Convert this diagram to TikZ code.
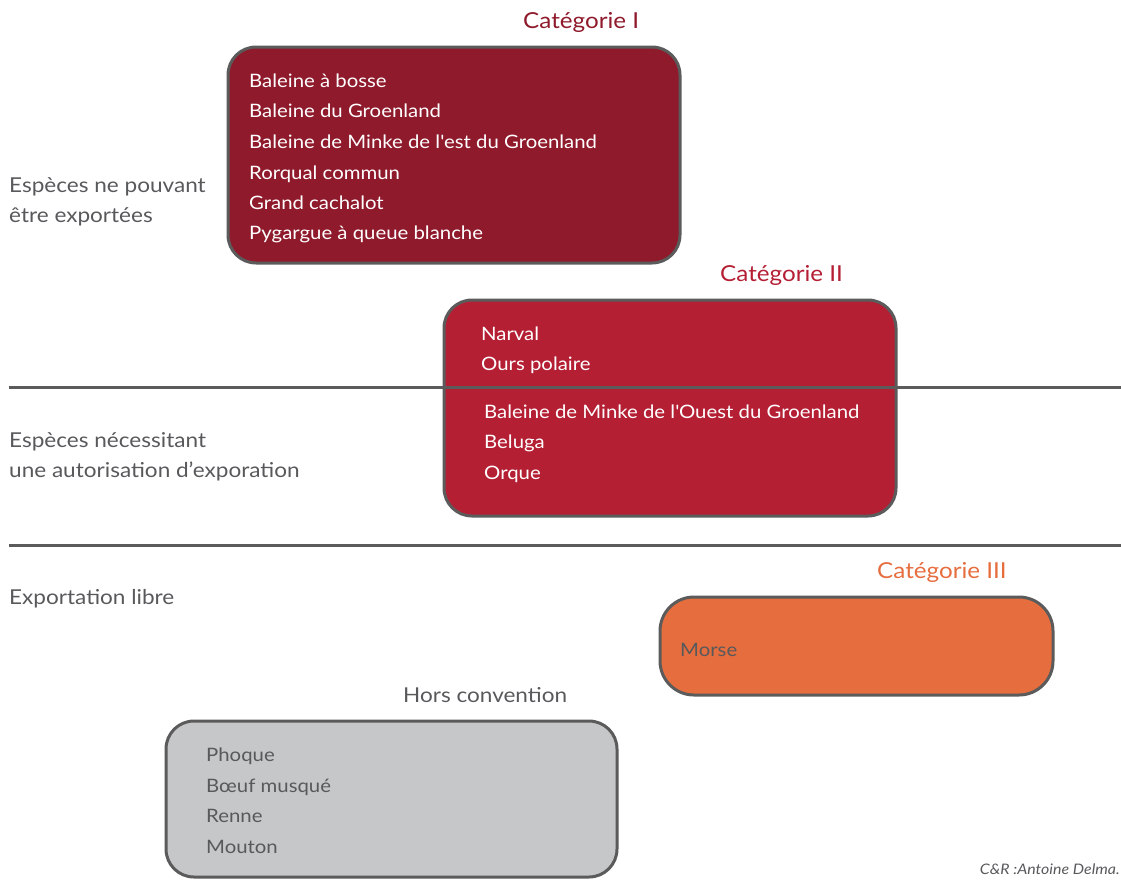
\documentclass[tikz,border=0pt]{standalone}
\usepackage{fontspec}
\setmainfont{Lato}[FakeStretch=1.1]
\definecolor{catI}{HTML}{8F1A2C}
\definecolor{catII}{HTML}{B41F34}
\definecolor{catIII}{HTML}{E66D3E}
\definecolor{hors}{HTML}{C6C7C9}
\definecolor{bord}{HTML}{5B5B5B}
\definecolor{txt}{HTML}{58595B}
\tikzset{
  box/.style={draw=bord, line width=3pt, rounded corners=28pt, inner sep=0pt},
  item/.style={anchor=west, inner sep=0pt, font=\fontsize{18.5}{21}\selectfont, text height=13pt, text depth=0pt, yshift=-1pt},
  wit/.style={item, text=white},
  git/.style={item, text=txt},
  lbl/.style={anchor=west, inner sep=0pt, font=\fontsize{20.5}{23}\selectfont, text height=14pt, text depth=0pt, yshift=-1pt},
  ttl/.style={anchor=west, inner sep=0pt, font=\fontsize{22}{25}\selectfont, text height=15pt, text depth=0pt, yshift=-1pt},
  sep/.style={draw=bord, line width=3pt},
}
\begin{document}
\begin{tikzpicture}[x=1pt,y=-1pt]
\useasboundingbox (0,0) rectangle (1121,879);
% boxes
\node[box, fill=catI, minimum width=452pt, minimum height=216pt] (bI) at (454,155) {};
\node[box, fill=catII, minimum width=452pt, minimum height=216pt] (bII) at (670,408) {};
\node[box, fill=catIII, minimum width=393pt, minimum height=98pt, rounded corners=34pt] (bIII) at (856.5,646) {};
\node[box, fill=hors, minimum width=451pt, minimum height=156pt] (bH) at (391.5,799) {};
% separators
\coordinate (l1a) at (9,387); \coordinate (l1b) at (1121,387);
\coordinate (l2a) at (9,545); \coordinate (l2b) at (1121,545);
\draw[sep] (l1a) -- (l1b);
\draw[sep] (l2a) -- (l2b);
% titles
\node[ttl, text=catI] (tI) at (523,20) {Catégorie I};
\node[ttl, text=catII] (tII) at (720,273) {Catégorie II};
\node[ttl, text=catIII] (tIII) at (877,570) {Catégorie III};
\node[lbl, text=txt] (tH) at (403,694) {Hors convention};
% left labels
\node[lbl, text=txt] (e1) at (9,184) {Espèces ne pouvant};
\node[lbl, text=txt] (e2) at (9,214) {être exportées};
\node[lbl, text=txt] (e3) at (9,439) {Espèces nécessitant};
\node[lbl, text=txt] (e4) at (9,469) {une autorisation d’exporation};
\node[lbl, text=txt] (e5) at (9,596) {Exportation libre};
% category I list
\node[wit] (a1) at (249,80) {Baleine à bosse};
\node[wit] (a2) at (249,110) {Baleine du Groenland};
\node[wit] (a3) at (249,141) {Baleine de Minke de l\textquotesingle est du Groenland};
\node[wit] (a4) at (249,172) {Rorqual commun};
\node[wit] (a5) at (249,202) {Grand cachalot};
\node[wit] (a6) at (249,232) {Pygargue à queue blanche};
% category II list
\node[wit] (b1) at (481,333) {Narval};
\node[wit] (b2) at (481,363) {Ours polaire};
\node[wit] (b3) at (484,411) {Baleine de Minke de l\textquotesingle Ouest du Groenland};
\node[wit] (b4) at (484,441) {Beluga};
\node[wit] (b5) at (484,472) {Orque};
% category III
\node[git] (c1) at (680,649) {Morse};
% hors convention
\node[git] (d1) at (206,754) {Phoque};
\node[git] (d2) at (206,785) {Bœuf musqué};
\node[git] (d3) at (206,815) {Renne};
\node[git] (d4) at (206,846) {Mouton};
% credit
\node[anchor=east, inner sep=0pt, text=txt, font=\fontsize{14.5}{16}\selectfont\itshape] (cr) at (1120,869) {C\&R :Antoine Delma.};
\end{tikzpicture}
\end{document}
